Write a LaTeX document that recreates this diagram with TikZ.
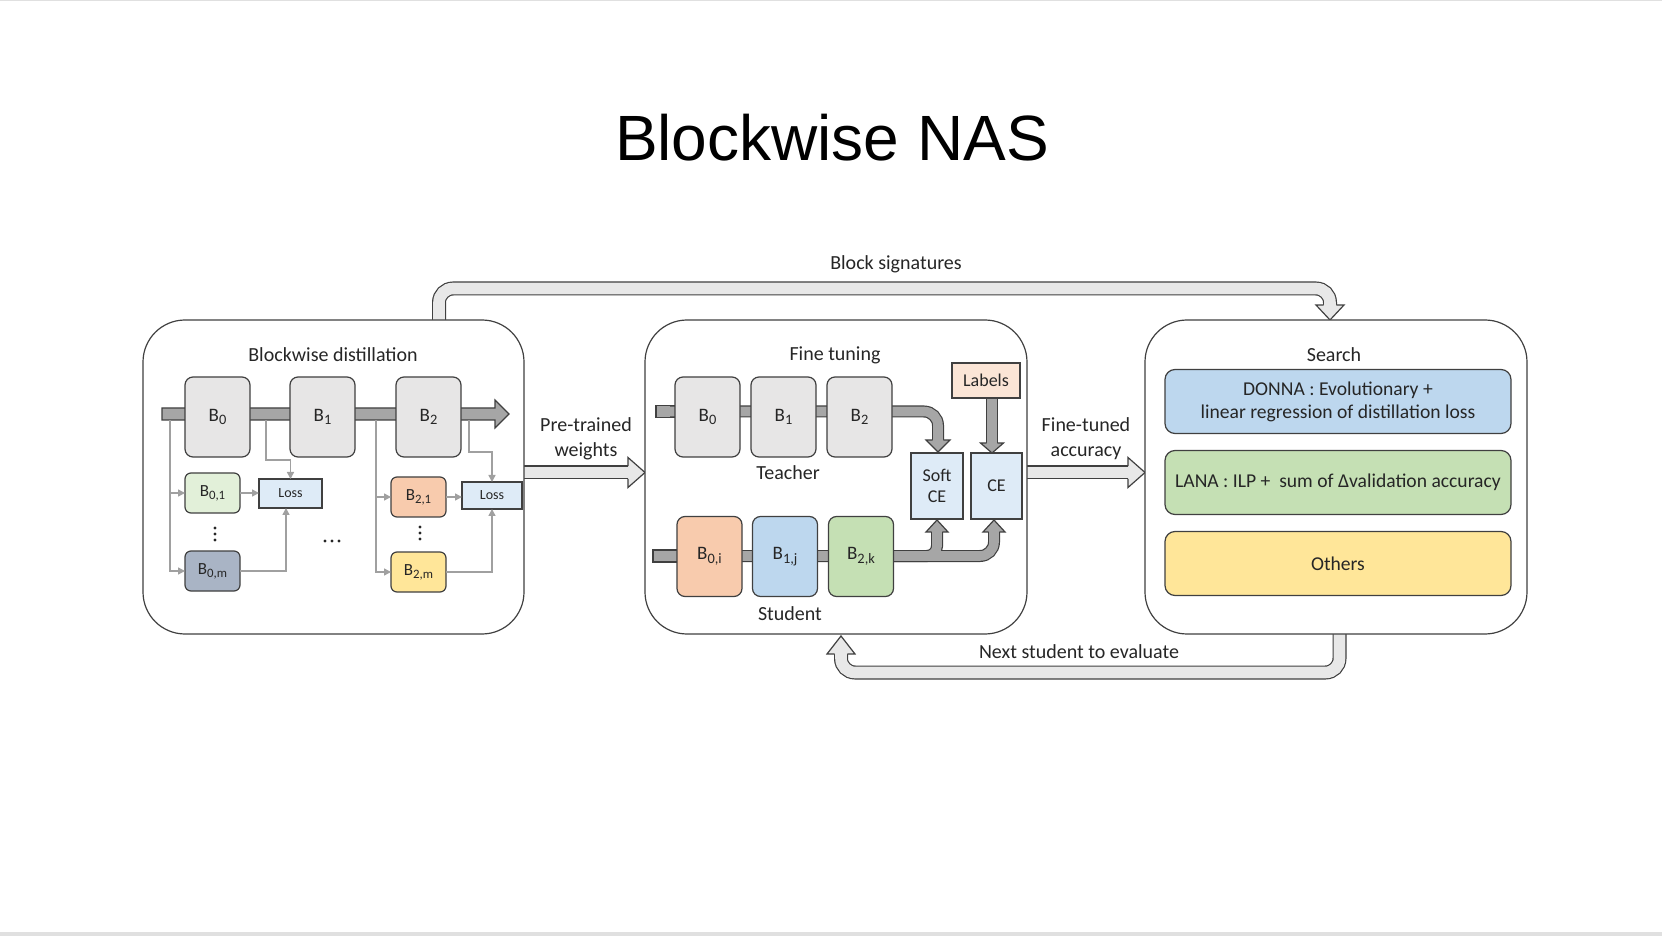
\documentclass[tikz,border=0pt]{standalone}
\usepackage{fontspec}
\setmainfont{Carlito}
\newfontfamily\titlefont{Liberation Sans}
\usetikzlibrary{arrows.meta,calc}
\definecolor{dk}{HTML}{404040}
\definecolor{txt}{HTML}{262626}
\definecolor{lg}{HTML}{E7E6E6}
\definecolor{barg}{HTML}{A6A6A6}
\definecolor{hol}{HTML}{E8E8E8}
\definecolor{thing}{HTML}{A0A0A0}
\definecolor{lossb}{HTML}{DEEBF7}
\definecolor{lab}{HTML}{FBE5D6}
\definecolor{gr1}{HTML}{E2F0D9}
\definecolor{slate}{HTML}{A9B4C5}
\definecolor{salm}{HTML}{F8CBAD}
\definecolor{yel}{HTML}{FFE699}
\definecolor{blu}{HTML}{BDD7EE}
\definecolor{grn}{HTML}{C5E0B4}
\pgfdeclarelayer{back}
\pgfdeclarelayer{bg}
\pgfsetlayers{back,bg,main}
\newcommand\myvhead[6]{\filldraw[#1] ({#2-#5},#3) -- ({#2-#6},#3) -- (#2,#4) -- ({#2+#6},#3) -- ({#2+#5},#3);}
\newcommand\myhhead[6]{\filldraw[#1] (#3,{#2-#5}) -- (#3,{#2-#6}) -- (#4,#2) -- (#3,{#2+#6}) -- (#3,{#2+#5});}
\newcommand\bsub[1]{\raisebox{-0.38ex}{\fontsize{7.2}{8}\selectfont #1}}
\newcommand\ssub[1]{\raisebox{-0.38ex}{\fontsize{6.4}{7}\selectfont #1}}
\tikzset{
  cont/.style={draw=dk, fill=white, line width=0.6pt, rounded corners=21pt, outer sep=0pt, minimum height=157pt},
  blk/.style={draw=dk, line width=0.6pt, rounded corners=4pt, inner sep=0pt, outer sep=0pt, text=txt,
    font=\fontsize{9.5}{11}\selectfont, minimum width=32.5pt, minimum height=40pt},
  sblk/.style={blk, font=\fontsize{8.5}{10}\selectfont, minimum width=27.5pt, minimum height=20pt, rounded corners=3pt},
  sq/.style={draw=dk, line width=0.6pt, inner sep=0pt, outer sep=0pt, text=txt, align=center},
  lossbox/.style={sq, fill=lossb, font=\fontsize{7}{8}\selectfont},
  lbl/.style={text=txt, font=\fontsize{10}{12.5}\selectfont, align=center, inner sep=0pt},
  srch/.style={draw=dk, line width=0.6pt, rounded corners=5pt, minimum width=173pt, minimum height=32pt,
    align=center, text=txt, inner sep=0pt, font=\fontsize{9.8}{11.5}\selectfont},
  tconn/.style={draw=thing, line width=0.75pt, -{Triangle[length=3.5pt,width=3.5pt]}},
  bandO/.style={draw=dk, line width=6pt},
  bandI/.style={draw=barg, line width=4.8pt},
  holO/.style={draw=dk, line width=7pt},
  holI/.style={draw=hol, line width=5.8pt},
  ghead/.style={fill=barg, draw=dk, line width=0.6pt},
  hhd/.style={fill=hol, draw=dk, line width=0.6pt},
  dotc/.style={fill=txt, draw=none, circle, inner sep=0pt, minimum size=1.6pt},
}
\begin{document}
\begin{tikzpicture}[x=0.5pt,y=-0.5pt]
\useasboundingbox (0,0) rectangle (1662,936);
\begin{pgfonlayer}{back}
  \fill[white] (0,0) rectangle (1662,936);
  \fill[black!12] (0,932) rectangle (1662,936);
  \fill[black!12] (0,0) rectangle (1662,1.5);
\end{pgfonlayer}

% title
\node[text=black, font=\titlefont\fontsize{32}{38}\selectfont, anchor=base, inner sep=0pt] (title) at (832,161) {Blockwise NAS};

% containers
\node[cont, minimum width=190.5pt] (boxL) at (333.5,477) {};
\node[cont, minimum width=191pt] (boxM) at (836,477) {};
\node[cont, minimum width=191pt] (boxR) at (1336,477) {};

\node[lbl] (hL) at (333,355) {Blockwise distillation};
\node[lbl] (hM) at (835,355) {Fine tuning};
\node[lbl] (hR) at (1334,355) {Search};

% hollow arrows between containers (below the containers)
\begin{pgfonlayer}{bg}
  \coordinate (bsS) at ([xshift=52.75pt]boxL.north);
  \coordinate (bsE) at ([xshift=-3pt,yshift=7.5pt]boxR.north);
  \draw[holO, rounded corners=7pt] (bsS) -- ++(0,-31.5) -| (bsE);
  \draw[holI, rounded corners=7pt] (bsS) -- ++(0,-31.5) -| (bsE);
  \myvhead{hhd}{1330}{305}{320}{6.4}{14}

  \coordinate (nsS) at ([xshift=1.75pt]boxR.south);
  \coordinate (nsE) at ([xshift=2.5pt,yshift=-10pt]boxM.south);
  \draw[holO, rounded corners=7pt] (nsS) -- ++(0,38.5) -| (nsE);
  \draw[holI, rounded corners=7pt] (nsS) -- ++(0,38.5) -| (nsE);
  \myvhead{hhd}{841}{654}{636}{6.4}{14}

  \coordinate (pwS) at ([yshift=2.25pt]boxL.east);
  \coordinate (pwE) at ([xshift=-8.5pt,yshift=2.25pt]boxM.west);
  \draw[holO] (pwS) -- (pwE);
  \draw[holI] (pwS) -- (pwE);
  \myhhead{hhd}{472.5}{628}{645}{6.4}{15}

  \coordinate (ftS) at ([yshift=2.25pt]boxM.east);
  \coordinate (ftE) at ([xshift=-8.5pt,yshift=2.25pt]boxR.west);
  \draw[holO] (ftS) -- (ftE);
  \draw[holI] (ftS) -- (ftE);
  \myhhead{hhd}{472.5}{1128}{1145}{6.4}{15}
\end{pgfonlayer}

\node[lbl] (bsig) at (896,264) {Block signatures};
\node[lbl] (ptw) at (586,438.5) {Pre-trained\\weights};
\node[lbl] (fta) at (1086,438.5) {Fine-tuned\\accuracy};
\node[lbl] (nse) at (1079,652) {Next student to evaluate};

% ---------- left: blockwise distillation ----------
\filldraw[fill=barg, draw=dk, line width=0.6pt] (162,408) -- (495,408) -- (495,400) -- (509,414) -- (495,428) -- (495,420) -- (162,420) -- cycle;
\coordinate (s0) at (170,420);
\coordinate (s1) at (266,420);
\coordinate (s2) at (376,420);
\coordinate (s3) at (469,420);

\node[blk, fill=lg] (L0) at (217.5,417) {B\bsub{0}};
\node[blk, fill=lg] (L1) at (322.5,417) {B\bsub{1}};
\node[blk, fill=lg] (L2) at (428.5,417) {B\bsub{2}};

\node[sblk, fill=gr1] (L01) at (212.5,493) {B\ssub{0,1}};
\node[sblk, fill=slate] (L0m) at (212.5,571) {B\ssub{0,m}};
\node[sblk, fill=salm] (L21) at (418.5,497) {B\ssub{2,1}};
\node[sblk, fill=yel] (L2m) at (418.5,572) {B\ssub{2,m}};
\node[lossbox, minimum width=31.5pt, minimum height=14.5pt] (Loss1) at (290.5,493.5) {Loss};
\node[lossbox, minimum width=30pt, minimum height=13.5pt] (Loss2) at (492,495.5) {Loss};

\foreach \yy in {528,534,540} {\node[dotc] at (215,\yy) {};}
\foreach \yy in {527,533,539} {\node[dotc] at (420,\yy) {};}
\foreach \xx in {325,332,339} {\node[dotc] at (\xx,541) {};}

\draw[tconn] (s0) |- (L0m.west);
\draw[tconn] (s0 |- L01.west) -- (L01.west);
\draw[tconn] (s1) -- ++(0,40) -| (Loss1.north);
\draw[tconn] (L01.east) -- (L01.east -| Loss1.west);
\draw[tconn] (L0m.east) -| ([xshift=-2.25pt]Loss1.south);
\draw[tconn] (s2) |- (L2m.west);
\draw[tconn] (s2 |- L21.west) -- (L21.west);
\draw[tconn] (s3) -- ++(0,32) -| (Loss2.north);
\draw[tconn] (L21.east) -- (L21.east -| Loss2.west);
\draw[tconn] (L2m.east) -| (Loss2.south);

% ---------- middle: fine tuning ----------
\coordinate (tS) at (670,411.5);
\coordinate (tE) at (938,440);
\filldraw[fill=barg, draw=dk, line width=0.6pt] (656,405.5) rectangle (680,417.5);
\draw[bandO, rounded corners=7pt] (tS) -| (tE);
\draw[bandI, rounded corners=7pt] (tS) -| (tE);

\coordinate (uS) at (670,556);
\coordinate (uM) at (880,556);
\coordinate (uE1) at (937,532);
\coordinate (uE2) at (994,532);
\filldraw[fill=barg, draw=dk, line width=0.6pt] (653,550) rectangle (680,562);
\draw[bandO, rounded corners=7pt] (uM) -| (uE2);
\draw[bandO, rounded corners=5pt] (uS) -| (uE1);
\draw[bandI, rounded corners=7pt] (uM) -| (uE2);
\draw[bandI, rounded corners=5pt] (uS) -| (uE1);

\node[sq, fill=lab, minimum width=34pt, minimum height=17.5pt, font=\fontsize{9}{10}\selectfont] (labels) at (986,380.5) {Labels};
\node[sq, fill=lossb, minimum width=26pt, minimum height=33pt, font=\fontsize{9}{10.5}\selectfont] (softce) at (937,486) {Soft\\CE};
\node[sq, fill=lossb, minimum width=25.5pt, minimum height=33pt, font=\fontsize{9}{10.5}\selectfont] (ce) at (996.5,486) {CE};

\coordinate (lbS) at ([xshift=3pt]labels.south);
\coordinate (lbE) at ([xshift=-2.25pt,yshift=5pt]ce.north);
\draw[bandO] (lbS) -- (lbE);
\draw[bandI] (lbS) -- (lbE);
\draw[dk, line width=0.6pt] (labels.south west) -- (labels.south east);

\node[blk, fill=lg] (T0) at (707.5,417) {B\bsub{0}};
\node[blk, fill=lg] (T1) at (783.5,417) {B\bsub{1}};
\node[blk, fill=lg] (T2) at (859.5,417) {B\bsub{2}};
\node[blk, fill=salm] (S0) at (709.5,556.5) {B\bsub{0,i}};
\node[blk, fill=blu] (S1) at (785,556.5) {B\bsub{1,j}};
\node[blk, fill=grn] (S2) at (861,556.5) {B\bsub{2,k}};
\node[lbl] (teacher) at (788,473) {Teacher};
\node[lbl] (student) at (790,614) {Student};

\myvhead{ghead}{938}{440}{452}{5.4}{12}
\myvhead{ghead}{992}{443}{453}{5.4}{11.5}
\myvhead{ghead}{937}{532}{520}{5.4}{11}
\myvhead{ghead}{994}{532}{520}{5.4}{11}

% ---------- right: search ----------
\node[srch, fill=blu] (donna) at (1338,401.5) {DONNA : Evolutionary +\\linear regression of distillation loss};
\node[srch, fill=grn] (lana) at (1338,482.5) {LANA : ILP + \ sum of Δvalidation accuracy};
\node[srch, fill=yel] (others) at (1338,563.5) {Others};
\end{tikzpicture}
\end{document}
